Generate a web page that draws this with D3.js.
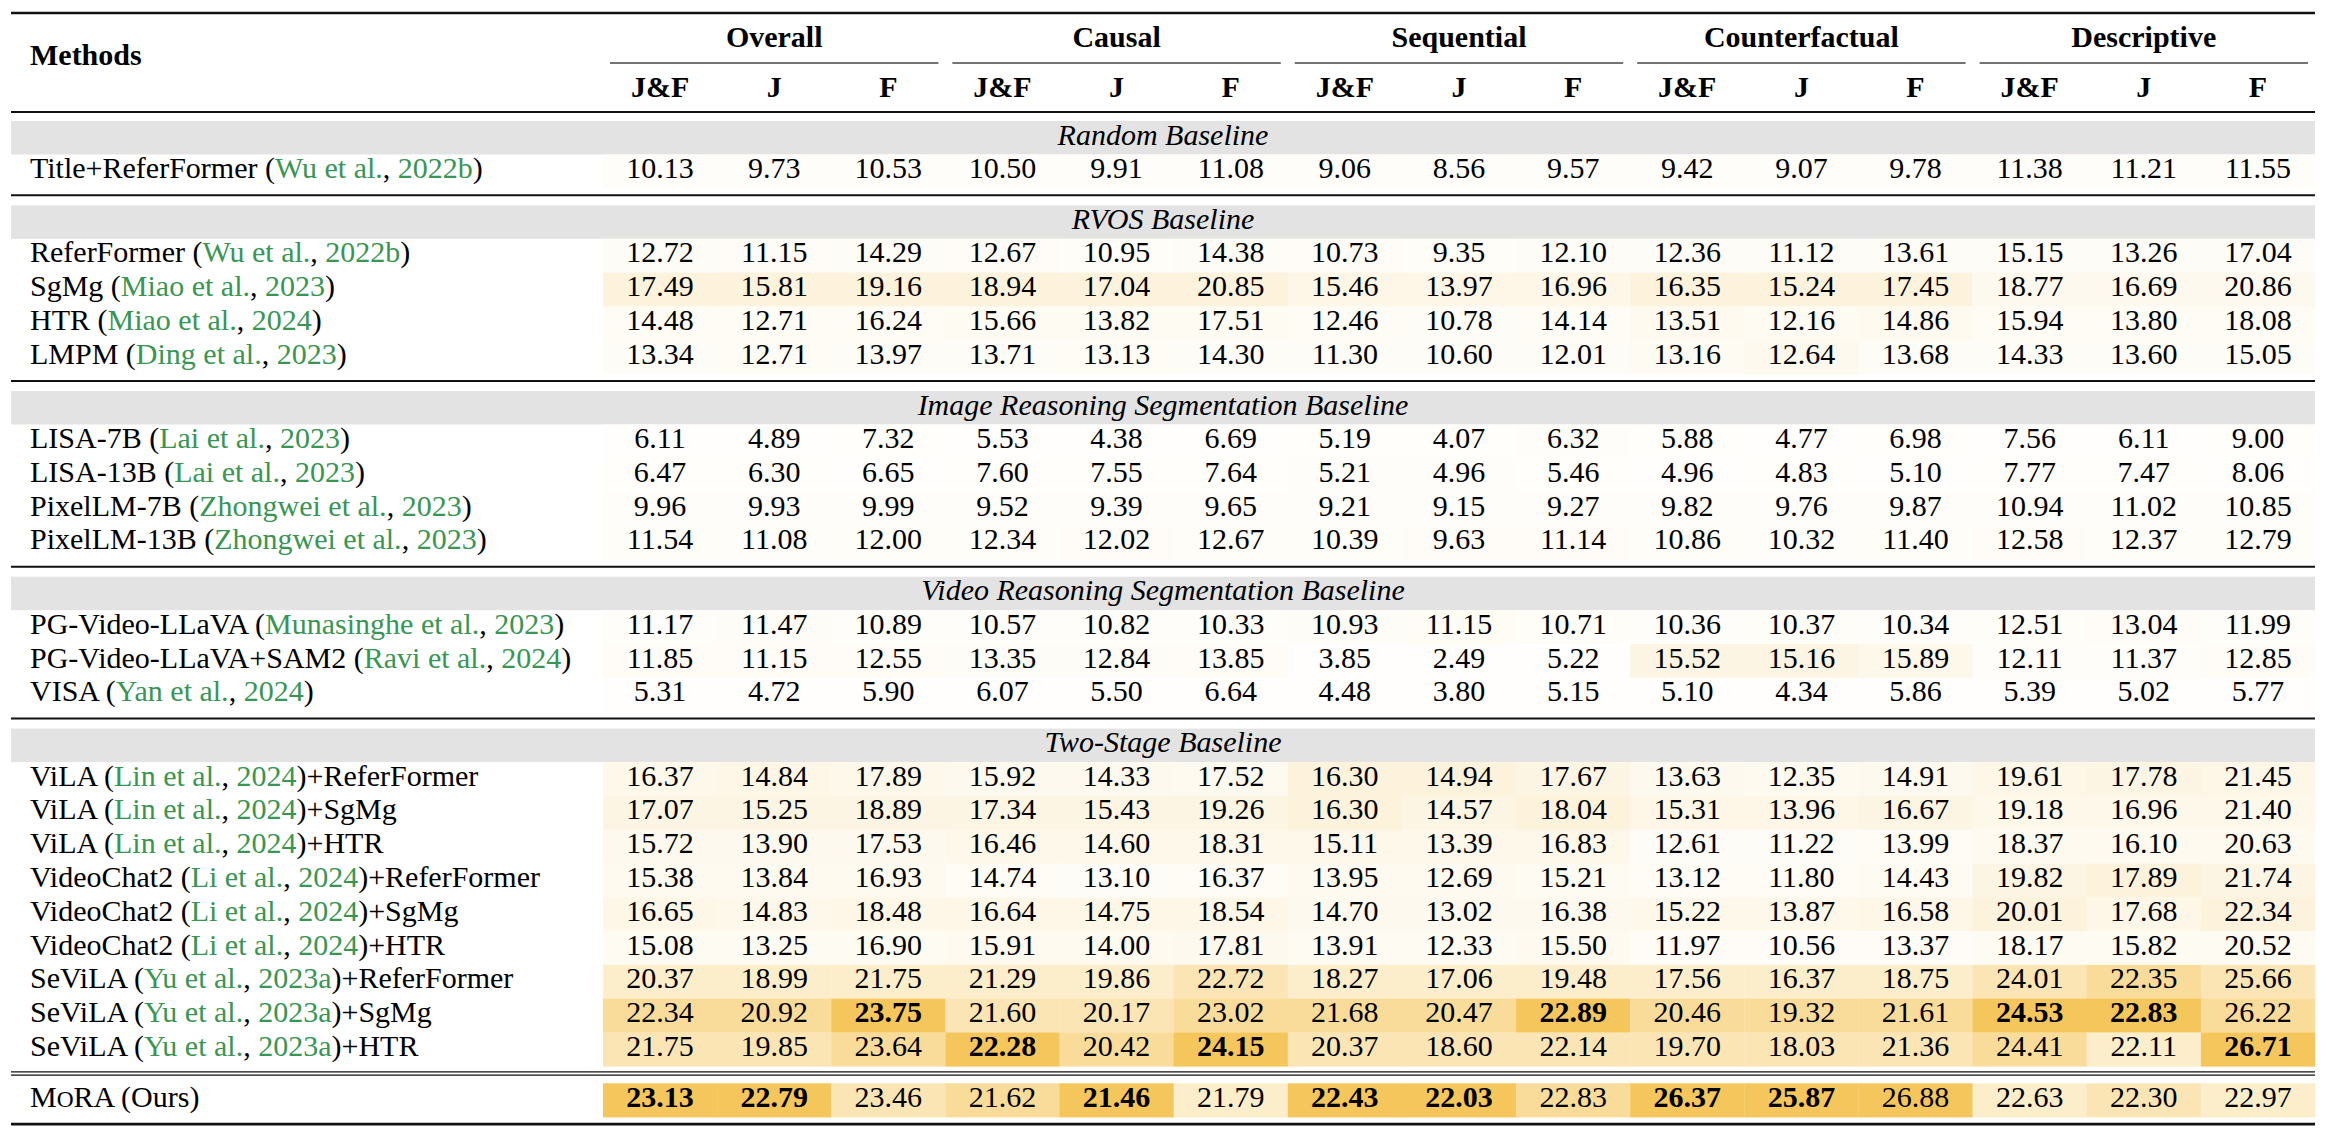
<!DOCTYPE html>
<html><head><meta charset="utf-8">
<script src="https://cdn.jsdelivr.net/npm/d3@7"></script>
<style>
html,body{margin:0;padding:0;background:#fff;}
svg{display:block;}
</style>
</head><body>
<svg id="chart" width="2326" height="1136"></svg>
<script>
// ---------------- DATA ----------------
const groups = ["Overall", "Causal", "Sequential", "Counterfactual", "Descriptive"];
const metrics = ["J&F", "J", "F"];
const sections = ["Random Baseline", "RVOS Baseline", "Image Reasoning Segmentation Baseline",
                  "Video Reasoning Segmentation Baseline", "Two-Stage Baseline"];
// [name, citation author, citation year, suffix]
const methodNames = [
  ["Title+ReferFormer", "Wu et al.", "2022b", ""],
  ["ReferFormer", "Wu et al.", "2022b", ""],
  ["SgMg", "Miao et al.", "2023", ""],
  ["HTR", "Miao et al.", "2024", ""],
  ["LMPM", "Ding et al.", "2023", ""],
  ["LISA-7B", "Lai et al.", "2023", ""],
  ["LISA-13B", "Lai et al.", "2023", ""],
  ["PixelLM-7B", "Zhongwei et al.", "2023", ""],
  ["PixelLM-13B", "Zhongwei et al.", "2023", ""],
  ["PG-Video-LLaVA", "Munasinghe et al.", "2023", ""],
  ["PG-Video-LLaVA+SAM2", "Ravi et al.", "2024", ""],
  ["VISA", "Yan et al.", "2024", ""],
  ["ViLA", "Lin et al.", "2024", "+ReferFormer"],
  ["ViLA", "Lin et al.", "2024", "+SgMg"],
  ["ViLA", "Lin et al.", "2024", "+HTR"],
  ["VideoChat2", "Li et al.", "2024", "+ReferFormer"],
  ["VideoChat2", "Li et al.", "2024", "+SgMg"],
  ["VideoChat2", "Li et al.", "2024", "+HTR"],
  ["SeViLA", "Yu et al.", "2023a", "+ReferFormer"],
  ["SeViLA", "Yu et al.", "2023a", "+SgMg"],
  ["SeViLA", "Yu et al.", "2023a", "+HTR"],
  ["MORA", "", "", " (Ours)"]
];
// section index of each method row (5 = final row, no band)
const methodSection = [0, 1,1,1,1, 2,2,2,2, 3,3,3, 4,4,4,4,4,4,4,4,4, 5];
const values = [
  [10.13, 9.73, 10.53, 10.50, 9.91, 11.08, 9.06, 8.56, 9.57, 9.42, 9.07, 9.78, 11.38, 11.21, 11.55],
  [12.72, 11.15, 14.29, 12.67, 10.95, 14.38, 10.73, 9.35, 12.10, 12.36, 11.12, 13.61, 15.15, 13.26, 17.04],
  [17.49, 15.81, 19.16, 18.94, 17.04, 20.85, 15.46, 13.97, 16.96, 16.35, 15.24, 17.45, 18.77, 16.69, 20.86],
  [14.48, 12.71, 16.24, 15.66, 13.82, 17.51, 12.46, 10.78, 14.14, 13.51, 12.16, 14.86, 15.94, 13.80, 18.08],
  [13.34, 12.71, 13.97, 13.71, 13.13, 14.30, 11.30, 10.60, 12.01, 13.16, 12.64, 13.68, 14.33, 13.60, 15.05],
  [6.11, 4.89, 7.32, 5.53, 4.38, 6.69, 5.19, 4.07, 6.32, 5.88, 4.77, 6.98, 7.56, 6.11, 9.00],
  [6.47, 6.30, 6.65, 7.60, 7.55, 7.64, 5.21, 4.96, 5.46, 4.96, 4.83, 5.10, 7.77, 7.47, 8.06],
  [9.96, 9.93, 9.99, 9.52, 9.39, 9.65, 9.21, 9.15, 9.27, 9.82, 9.76, 9.87, 10.94, 11.02, 10.85],
  [11.54, 11.08, 12.00, 12.34, 12.02, 12.67, 10.39, 9.63, 11.14, 10.86, 10.32, 11.40, 12.58, 12.37, 12.79],
  [11.17, 11.47, 10.89, 10.57, 10.82, 10.33, 10.93, 11.15, 10.71, 10.36, 10.37, 10.34, 12.51, 13.04, 11.99],
  [11.85, 11.15, 12.55, 13.35, 12.84, 13.85, 3.85, 2.49, 5.22, 15.52, 15.16, 15.89, 12.11, 11.37, 12.85],
  [5.31, 4.72, 5.90, 6.07, 5.50, 6.64, 4.48, 3.80, 5.15, 5.10, 4.34, 5.86, 5.39, 5.02, 5.77],
  [16.37, 14.84, 17.89, 15.92, 14.33, 17.52, 16.30, 14.94, 17.67, 13.63, 12.35, 14.91, 19.61, 17.78, 21.45],
  [17.07, 15.25, 18.89, 17.34, 15.43, 19.26, 16.30, 14.57, 18.04, 15.31, 13.96, 16.67, 19.18, 16.96, 21.40],
  [15.72, 13.90, 17.53, 16.46, 14.60, 18.31, 15.11, 13.39, 16.83, 12.61, 11.22, 13.99, 18.37, 16.10, 20.63],
  [15.38, 13.84, 16.93, 14.74, 13.10, 16.37, 13.95, 12.69, 15.21, 13.12, 11.80, 14.43, 19.82, 17.89, 21.74],
  [16.65, 14.83, 18.48, 16.64, 14.75, 18.54, 14.70, 13.02, 16.38, 15.22, 13.87, 16.58, 20.01, 17.68, 22.34],
  [15.08, 13.25, 16.90, 15.91, 14.00, 17.81, 13.91, 12.33, 15.50, 11.97, 10.56, 13.37, 18.17, 15.82, 20.52],
  [20.37, 18.99, 21.75, 21.29, 19.86, 22.72, 18.27, 17.06, 19.48, 17.56, 16.37, 18.75, 24.01, 22.35, 25.66],
  [22.34, 20.92, 23.75, 21.60, 20.17, 23.02, 21.68, 20.47, 22.89, 20.46, 19.32, 21.61, 24.53, 22.83, 26.22],
  [21.75, 19.85, 23.64, 22.28, 20.42, 24.15, 20.37, 18.60, 22.14, 19.70, 18.03, 21.36, 24.41, 22.11, 26.71],
  [23.13, 22.79, 23.46, 21.62, 21.46, 21.79, 22.43, 22.03, 22.83, 26.37, 25.87, 26.88, 22.63, 22.30, 22.97]
];
// [row, column] of bold entries
const boldCells = [[19,2],[19,8],[19,12],[19,13],[20,3],[20,5],[20,14],
                   [21,0],[21,1],[21,4],[21,6],[21,7],[21,9],[21,10]];

// ---------------- LAYOUT ----------------
const L = 11, R = 2315, dataL = 603;
const FS = 30;
const FONT = "'Liberation Serif', 'Times New Roman', serif";
const BAND_H = 33.5, ROW_H = 33.8;
const GOLD = "#f5c65b", GREEN = "#389653", BAND = "#e3e3e3", INK = "#000";

const svg = d3.select("#chart");
const nCols = groups.length * metrics.length;
const x = d3.scaleBand().domain(d3.range(nCols)).range([dataL, R]).paddingInner(0).paddingOuter(0);
const xg = d3.scaleBand().domain(groups).range([dataL, R]);

// per-column rank -> colour intensity
const rankT = d3.scaleLinear().domain([1, 2, 3, 4, 5, 6, 8, 12, 22])
  .range([1, 0.62, 0.45, 0.32, 0.22, 0.17, 0.12, 0.06, 0.015]).clamp(true);
const colorI = d3.interpolateRgb("#ffffff", GOLD);
const colSorted = d3.range(nCols).map(c => values.map(r => r[c]).sort((a, b) => b - a));
function cellColor(v, c) {
  const rank = colSorted[c].indexOf(v) + 1;
  return colorI(rankT(rank));
}
const boldSet = new Set(boldCells.map(d => d[0] + "_" + d[1]));

// vertical layout
const TOP_RULE = 13, HEAD_RULE = 112;
let yc = HEAD_RULE + 9;
const bands = [], rowsY = [], rules = [];
for (let s = 0; s < sections.length; s++) {
  bands.push({ title: sections[s], y: yc });
  yc += BAND_H;
  methodSection.forEach((ms, i) => { if (ms === s) { rowsY[i] = yc; yc += ROW_H; } });
  if (s < sections.length - 1) {
    rules.push({ y: yc + 7, w: 2 });
    yc += 7 + 10;
  }
}
const dbl1 = yc + 5.5, dbl2 = yc + 8.8;
yc = yc + 17;
methodSection.forEach((ms, i) => { if (ms === 5) { rowsY[i] = yc; yc += ROW_H; } });
const BOTTOM_RULE = yc + 7;
const BASE = 23.5;

// ---------------- DRAW ----------------
const g = svg.append("g").attr("font-family", FONT).style("white-space", "pre");
const txt = sel => sel.attr("font-family", FONT);

g.selectAll("rect.band").data(bands).join("rect")
  .attr("x", L).attr("width", R - L).attr("y", d => d.y).attr("height", BAND_H)
  .attr("fill", BAND);
g.selectAll("text.band").data(bands).join("text").call(txt)
  .attr("x", (L + R) / 2).attr("y", d => d.y + BASE).attr("text-anchor", "middle")
  .attr("font-size", FS).attr("font-style", "italic").text(d => d.title);

const cells = [];
values.forEach((row, r) => row.forEach((v, c) => cells.push({ r, c, v })));
g.selectAll("rect.cell").data(cells).join("rect")
  .attr("x", d => x(d.c)).attr("width", x.bandwidth() + 0.3)
  .attr("y", d => rowsY[d.r]).attr("height", ROW_H + 0.3)
  .attr("fill", d => cellColor(d.v, d.c));
g.selectAll("text.cell").data(cells).join("text").call(txt)
  .attr("x", d => x(d.c) + x.bandwidth() / 2).attr("y", d => rowsY[d.r] + BASE)
  .attr("text-anchor", "middle").attr("font-size", FS)
  .attr("font-weight", d => boldSet.has(d.r + "_" + d.c) ? "bold" : "normal")
  .text(d => d.v.toFixed(2));

methodNames.forEach((m, i) => {
  const t = g.append("text").call(txt).attr("x", 30).attr("y", rowsY[i] + BASE).attr("font-size", FS).attr("fill", INK);
  if (m[0] === "MORA") {
    t.append("tspan").text("M");
    t.append("tspan").attr("font-size", FS * 0.78).text("O");
    t.append("tspan").text("RA" + m[3]);
  } else {
    t.append("tspan").text(m[0] + " (");
    t.append("tspan").attr("fill", GREEN).text(m[1]);
    t.append("tspan").text(", ");
    t.append("tspan").attr("fill", GREEN).text(m[2]);
    t.append("tspan").text(")" + m[3]);
  }
});

g.append("text").call(txt).attr("x", 30).attr("y", 65).attr("font-size", FS).attr("font-weight", "bold").text("Methods");
g.selectAll("text.grp").data(groups).join("text").call(txt)
  .attr("x", d => xg(d) + xg.bandwidth() / 2).attr("y", 47).attr("text-anchor", "middle")
  .attr("font-size", FS).attr("font-weight", "bold").text(d => d);
g.selectAll("line.cmid").data(groups).join("line")
  .attr("x1", d => xg(d) + 7).attr("x2", d => xg(d) + xg.bandwidth() - 7)
  .attr("y1", 63).attr("y2", 63).attr("stroke", "#444").attr("stroke-width", 1.3);
g.selectAll("text.sub").data(d3.range(nCols)).join("text").call(txt)
  .attr("x", c => x(c) + x.bandwidth() / 2).attr("y", 97).attr("text-anchor", "middle")
  .attr("font-size", FS).attr("font-weight", "bold").text(c => metrics[c % 3]);

const hr = (y, w) => g.append("line").attr("x1", L).attr("x2", R).attr("y1", y).attr("y2", y)
  .attr("stroke", "#111").attr("stroke-width", w);
hr(TOP_RULE, 2.6);
hr(HEAD_RULE, 2);
rules.forEach(r => hr(r.y, r.w));
hr(dbl1, 1.3);
hr(dbl2, 1.3);
hr(BOTTOM_RULE, 2.6);
</script>
</body></html>
